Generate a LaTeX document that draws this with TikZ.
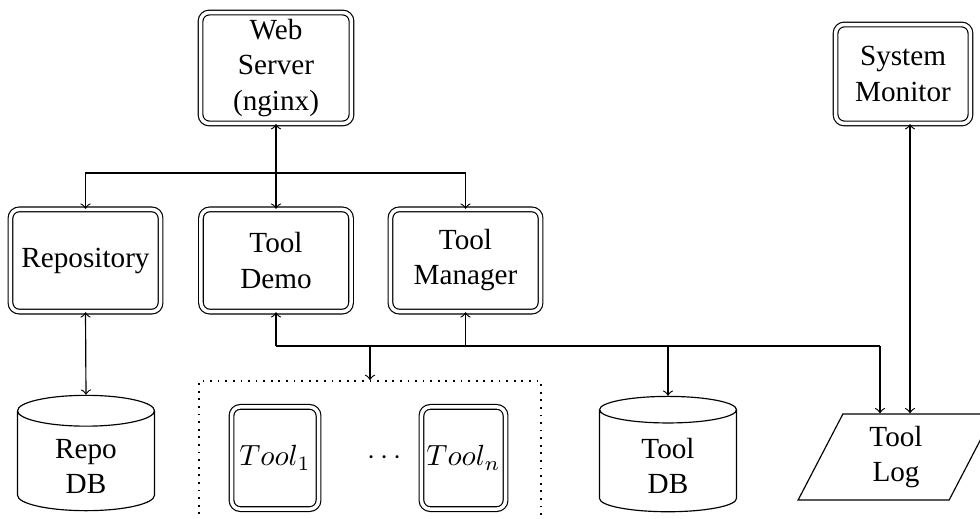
\documentclass[tikz,border=0pt]{standalone}
\usepackage{fontspec}
\setmainfont{Liberation Serif}
\usetikzlibrary{shapes.geometric,calc}

% two-line label, set lower than the node centre
\newcommand{\lowtext}[2]{\raisebox{-5.2pt}[0pt][0pt]{\begin{tabular}{@{}c@{}}#1\\#2\end{tabular}}}

\begin{document}
\begin{tikzpicture}[x=0.3425pt,y=-0.3425pt,>=to,
  svc/.style={draw, double, double distance=1.2pt, rounded corners=3pt,
    align=center, inner sep=0pt},
  midbox/.style={svc, minimum width=51.4pt, minimum height=35pt},
  toolbox/.style={svc, minimum height=35pt},
  store/.style={draw, cylinder, shape border rotate=90, aspect=0.5,
    minimum width=46.9pt, minimum height=39.5pt, inner sep=0pt},
  logbox/.style={draw, trapezium, trapezium left angle=70, trapezium right angle=110,
    trapezium stretches=true, minimum width=67.1pt, minimum height=29.5pt,
    align=center, inner sep=0pt},
  group/.style={draw, dotted, line width=0.6pt, minimum width=117.1pt, minimum height=56.2pt}]
\useasboundingbox (0,0) rectangle (980,519);

% service layer
\node[svc, minimum width=51.7pt, minimum height=38pt] (web) at (276,68) {Web\\Server\\(nginx)};
\node[svc, minimum width=46.2pt, minimum height=33.9pt] (mon) at (903,74) {System\\Monitor};
\node[midbox] (repo) at (85.5,260.5) {Repository};
\node[midbox] (demo) at (276,260.5) {Tool\\Demo};
\node[midbox] (man)  at (465.5,260.5) {Tool\\Manager};

% storage and tools
\node[group] (tools) at (370,463) {};
\node[toolbox, minimum width=29.8pt] (tool1) at (275,458) {$Tool_1$};
\node (dots) at (385,458) {$\cdots$};
\node[toolbox, minimum width=28.8pt] (tooln) at (463.5,458) {$Tool_n$};
\node[store] (rdb) at (86,461) {\lowtext{Repo}{DB}};
\node[store] (tdb) at (668,461) {\lowtext{Tool}{DB}};
\node[logbox] (log) at (896,457) {Tool\\Log};

% web server fan-out
\coordinate (split) at (276,173);
\draw[->] (split) -- (web.south);
\draw[->] (split) -| (repo.north);
\draw[->] (split) -- (demo.north);
\draw[->] (split) -| (man.north);

% repository database
\draw[<->] (repo.south) -- (rdb.north);

% tool bus
\coordinate (busL) at (276,346);
\coordinate (busR) at (880,346);
\draw (busL) -- (busR);
\draw[->] (busL) -- (demo.south);
\draw[->] (man.south |- busL) -- (man.south);
\draw[->] (tools.north |- busL) -- (tools.north);
\draw[->] (tdb.north |- busL) -- (tdb.north);
\draw[->] (busR) -- (busR |- log.north);

% monitor link
\coordinate (monout) at ($(mon.south)+(7,0)$);
\draw[<->] (monout) -- (monout |- log.north);
\end{tikzpicture}
\end{document}
